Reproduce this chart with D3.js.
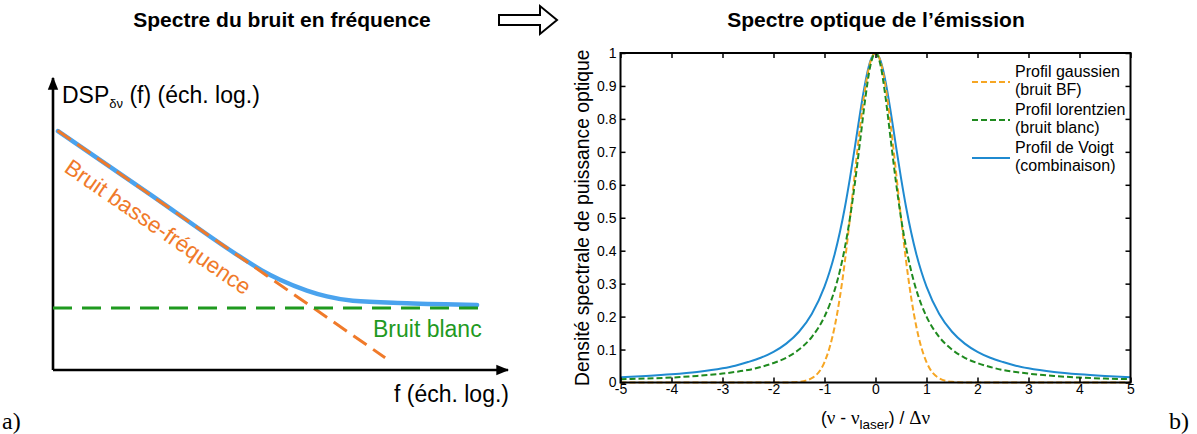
<!DOCTYPE html>
<html><head><meta charset="utf-8">
<script src="https://cdn.jsdelivr.net/npm/d3@7"></script>
<style>
html,body{margin:0;padding:0;background:#fff;}
svg{display:block;font-family:"Liberation Sans",Arial,sans-serif;}
</style></head>
<body>
<svg id="c" width="1197" height="434"></svg>
<script>
// ---------- Data: panel b) optical spectrum ----------
const detuning = [-5,-4.5,-4,-3.5,-3,-2.75,-2.5,-2.25,-2,-1.75,-1.5,-1.25,-1,-0.9,-0.8,-0.7,-0.6,-0.5,-0.4,-0.3,-0.2,-0.1,
  0,0.1,0.2,0.3,0.4,0.5,0.6,0.7,0.8,0.9,1,1.25,1.5,1.75,2,2.25,2.5,2.75,3,3.5,4,4.5,5];
const gaussProfile = [0,0,0,0,0,0,0,0,0,0.0002,0.002,0.013,0.062,0.106,0.170,0.257,0.368,0.5,0.642,0.779,0.895,0.973,
  1,0.973,0.895,0.779,0.642,0.5,0.368,0.257,0.170,0.106,0.062,0.013,0.002,0.0002,0,0,0,0,0,0,0,0,0];
const lorentzProfile = [0.010,0.012,0.015,0.020,0.027,0.032,0.038,0.047,0.059,0.075,0.100,0.138,0.200,0.236,0.281,0.338,0.410,0.500,0.610,0.735,0.862,0.962,
  1,0.962,0.862,0.735,0.610,0.500,0.410,0.338,0.281,0.236,0.200,0.138,0.100,0.075,0.059,0.047,0.038,0.032,0.027,0.020,0.015,0.012,0.010];
const voigtProfile = [0.016,0.020,0.025,0.032,0.043,0.051,0.062,0.075,0.093,0.118,0.154,0.208,0.291,0.336,0.390,0.455,0.532,0.621,0.719,0.820,0.911,0.976,
  1,0.976,0.911,0.820,0.719,0.621,0.532,0.455,0.390,0.336,0.291,0.208,0.154,0.118,0.093,0.075,0.062,0.051,0.043,0.032,0.025,0.020,0.016];
const xTickValues = [-5,-4,-3,-2,-1,0,1,2,3,4,5];
const xTickLabels = ["-5","-4","-3","-2","-1","0","1","2","3","4","5"];
const yTickValues = [0,0.1,0.2,0.3,0.4,0.5,0.6,0.7,0.8,0.9,1];
const yTickLabels = ["0","0.1","0.2","0.3","0.4","0.5","0.6","0.7","0.8","0.9","1"];
const legendLine1 = ["Profil gaussien","Profil lorentzien","Profil de Voigt"];
const legendLine2 = ["(bruit BF)","(bruit blanc)","(combinaison)"];

// ---------- Data: panel a) schematic noise spectrum (log-log units) ----------
const lowFreqNoise = [[0.1, 8.2],[7.3, 0.42]];
const whiteNoise = [[0, 2.12],[9.54, 2.12]];
const totalNoise = [[0.11,8.18],[2.15,6.0],[4.11,3.88],[4.59,3.41],[4.99,3.09],[5.58,2.72],[6.02,2.52],[6.59,2.37],[7.78,2.29],[9.32,2.23]];

const svg = d3.select("#c");
const SANS = '"Liberation Sans",Arial,sans-serif';
const SERIF = '"Liberation Serif","Times New Roman",serif';

// ---------- Titles & arrow ----------
svg.append("text").attr("x",282).attr("y",27).attr("text-anchor","middle")
  .attr("font-weight","bold").attr("font-size",21).text("Spectre du bruit en fréquence");
svg.append("text").attr("x",876).attr("y",27).attr("text-anchor","middle")
  .attr("font-weight","bold").attr("font-size",21).text("Spectre optique de l’émission");
svg.append("path")
  .attr("d","M499,15 L540,15 L540,6 L557,20 L540,34 L540,25 L499,25 Z")
  .attr("fill","#fff").attr("stroke","#000").attr("stroke-width",2).attr("stroke-linejoin","miter");

svg.append("text").attr("x",2).attr("y",429).attr("font-family",SERIF).attr("font-size",24).text("a)");
svg.append("text").attr("x",1169).attr("y",429).attr("font-family",SERIF).attr("font-size",24).text("b)");

// ---------- Panel a ----------
const xL = d3.scaleLinear().domain([0,10]).range([53,508]);
const yL = d3.scaleLinear().domain([0,10]).range([370,78]);
const defs = svg.append("defs");
defs.append("marker").attr("id","arr").attr("viewBox","0 0 10 10").attr("refX",9).attr("refY",5)
  .attr("markerWidth",5).attr("markerHeight",5).attr("orient","auto").attr("markerUnits","strokeWidth")
  .append("path").attr("d","M0,1 L10,5 L0,9 Z").attr("fill","#000");
const gA = svg.append("g");
gA.append("line").attr("x1",xL(0)).attr("y1",yL(0)).attr("x2",xL(0)).attr("y2",yL(10))
  .attr("stroke","#000").attr("stroke-width",2.6).attr("marker-end","url(#arr)");
gA.append("line").attr("x1",xL(0)).attr("y1",yL(0)).attr("x2",xL(10)).attr("y2",yL(0))
  .attr("stroke","#000").attr("stroke-width",2.6).attr("marker-end","url(#arr)");

gA.append("path").datum(totalNoise).attr("d",d3.line().x(d=>xL(d[0])).y(d=>yL(d[1])).curve(d3.curveMonotoneX))
  .attr("fill","none").attr("stroke","#4aa3ee").attr("stroke-width",4.5).attr("stroke-linecap","round");
gA.append("path").datum(lowFreqNoise).attr("d",d3.line().x(d=>xL(d[0])).y(d=>yL(d[1])))
  .attr("fill","none").attr("stroke","#f07a2a").attr("stroke-width",3).attr("stroke-dasharray","16,8");
gA.append("path").datum(whiteNoise).attr("d",d3.line().x(d=>xL(d[0])).y(d=>yL(d[1])))
  .attr("fill","none").attr("stroke","#1f9a1f").attr("stroke-width",3).attr("stroke-dasharray","19,10");

const dsp = gA.append("text").attr("x",62).attr("y",103).attr("font-size",23);
dsp.append("tspan").text("DSP");
dsp.append("tspan").attr("font-size",13).attr("dy",5).text("δν");
dsp.append("tspan").attr("dy",-5).text(" (f) (éch. log.)");
gA.append("text").attr("x",509).attr("y",402).attr("text-anchor","end").attr("font-size",23).text("f (éch. log.)");
gA.append("text").attr("x",373).attr("y",337).attr("font-size",23).attr("fill","#1f9a1f").text("Bruit blanc");
gA.append("text").attr("transform","translate(63,171) rotate(34.5)").attr("font-size",22.5)
  .attr("fill","#f07a2a").text("Bruit basse-fréquence");

// ---------- Panel b ----------
const x = d3.scaleLinear().domain([-5,5]).range([620.5,1130.5]);
const y = d3.scaleLinear().domain([0,1]).range([382.5,53]);
const gB = svg.append("g");

const mk = vals => detuning.map((d,i)=>[d, vals[i]]);
const line = d3.line().x(d=>x(d[0])).y(d=>y(d[1])).curve(d3.curveMonotoneX);
gB.append("path").datum(mk(voigtProfile)).attr("d",line).attr("fill","none")
  .attr("stroke","#1f8ad0").attr("stroke-width",2);
gB.append("path").datum(mk(gaussProfile)).attr("d",line).attr("fill","none")
  .attr("stroke","#f6a623").attr("stroke-width",2).attr("stroke-dasharray","6,3");
gB.append("path").datum(mk(lorentzProfile)).attr("d",line).attr("fill","none")
  .attr("stroke","#1f8a1f").attr("stroke-width",2).attr("stroke-dasharray","6,3");

function styleAxis(g){
  g.select(".domain").remove();
  g.selectAll(".tick line").attr("stroke","#000").attr("stroke-width",1.5);
  g.selectAll("text").attr("font-family",SANS).attr("font-size",14).attr("fill","#000");
}
gB.append("g").attr("transform","translate(0,382.5)")
  .call(d3.axisBottom(x).tickValues(xTickValues).tickFormat((d,i)=>xTickLabels[i]).tickSizeInner(-5).tickSizeOuter(0).tickPadding(2))
  .call(styleAxis);
gB.append("g").attr("transform","translate(0,53)")
  .call(d3.axisTop(x).tickValues(xTickValues).tickFormat("").tickSizeInner(-5).tickSizeOuter(0))
  .call(styleAxis);
gB.append("g").attr("transform","translate(620.5,0)")
  .call(d3.axisLeft(y).tickValues(yTickValues).tickFormat((d,i)=>yTickLabels[i]).tickSizeInner(-5).tickSizeOuter(0).tickPadding(4))
  .call(styleAxis);
gB.append("g").attr("transform","translate(1130.5,0)")
  .call(d3.axisRight(y).tickValues(yTickValues).tickFormat("").tickSizeInner(-5).tickSizeOuter(0))
  .call(styleAxis);
gB.append("rect").attr("x",x(-5)).attr("y",y(1)).attr("width",x(5)-x(-5)).attr("height",y(0)-y(1))
  .attr("fill","none").attr("stroke","#000").attr("stroke-width",2);

gB.append("text").attr("transform",`translate(589,${(y(0)+y(1))/2}) rotate(-90)`)
  .attr("text-anchor","middle").attr("font-size",19.3).text("Densité spectrale de puissance optique");

const xl = gB.append("text").attr("x",(x(-5)+x(5))/2).attr("y",424).attr("text-anchor","middle").attr("font-size",17.5);
xl.append("tspan").text("(");
xl.append("tspan").attr("font-family",SERIF).attr("font-size",19).text("ν");
xl.append("tspan").text(" - ");
xl.append("tspan").attr("font-family",SERIF).attr("font-size",19).text("ν");
xl.append("tspan").attr("font-size",13.5).attr("dy",5).text("laser");
xl.append("tspan").attr("dy",-5).text(") / ");
xl.append("tspan").attr("font-family",SERIF).attr("font-size",19).text("Δν");

const legColors = ["#f6a623","#1f8a1f","#1f8ad0"];
const legDash = ["6,3","6,3",null];
const legY = [82,120,158];
legendLine1.forEach((t,i)=>{
  const ln = gB.append("line").attr("x1",972).attr("x2",1010).attr("y1",legY[i]).attr("y2",legY[i])
    .attr("stroke",legColors[i]).attr("stroke-width",2);
  if(legDash[i]) ln.attr("stroke-dasharray",legDash[i]);
  gB.append("text").attr("x",1015).attr("y",legY[i]-5).attr("font-size",16).text(t);
  gB.append("text").attr("x",1015).attr("y",legY[i]+13).attr("font-size",16).text(legendLine2[i]);
});
</script>
</body></html>
